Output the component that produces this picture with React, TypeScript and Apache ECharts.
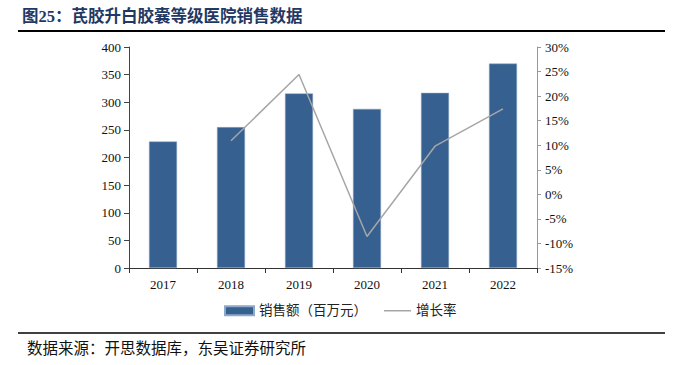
import React, { useEffect, useRef } from "react";
import * as echarts from "echarts";

const categories = ["2017", "2018", "2019", "2020", "2021", "2022"];
const salesValues = [229, 255, 316, 288, 317, 370];
const growthValues: (number | null)[] = [null, 10.9, 24.4, -8.6, 9.8, 17.4];
const title = "图25：芪胶升白胶囊等级医院销售数据";
const source = "数据来源：开思数据库，东吴证券研究所";
const seriesNames = ["销售额（百万元）", "增长率"];

const FONT = "'Liberation Serif', 'Noto Sans CJK SC', serif";

export default function App() {
  const ref = useRef<HTMLDivElement>(null);
  useEffect(() => {
    if (!ref.current) return;
    const chart = echarts.init(ref.current, undefined, { renderer: "svg" });
    const legendText = { fontFamily: FONT, fontSize: 13.5, color: "#222" };
    chart.setOption({
      animation: false,
      backgroundColor: "#ffffff",
      textStyle: { fontFamily: FONT },
      grid: { left: 129, right: 143, top: 47, bottom: 97 },
      legend: [
        {
          data: [{ name: seriesNames[0], icon: "rect" }],
          left: 219,
          top: 299,
          itemWidth: 29,
          itemHeight: 9,
          itemGap: 4,
          textStyle: legendText,
        },
        {
          data: [{ name: seriesNames[1], icon: "rect" }],
          left: 379,
          top: 299,
          itemWidth: 27,
          itemHeight: 1.5,
          itemGap: 4,
          textStyle: legendText,
        },
      ],
      graphic: [
        {
          type: "text",
          left: 22,
          top: 8,
          style: {
            text: title,
            font: "bold 16.5px 'Liberation Serif', 'Noto Sans CJK SC', serif",
            fill: "#1F3864",
          },
        },
        {
          type: "line",
          shape: { x1: 18, y1: 31, x2: 665, y2: 31 },
          style: { stroke: "#000", lineWidth: 2 },
        },
        {
          type: "line",
          shape: { x1: 18, y1: 333, x2: 665, y2: 333 },
          style: { stroke: "#000", lineWidth: 1.5 },
        },
        {
          type: "text",
          left: 27,
          top: 341,
          style: {
            text: source,
            font: "15.5px 'Liberation Serif', 'Noto Sans CJK SC', serif",
            fill: "#111",
          },
        },
      ],
      xAxis: {
        type: "category",
        data: categories,
        axisLine: { lineStyle: { color: "#333", width: 1 } },
        axisTick: { show: true, length: 5, lineStyle: { color: "#333" } },
        axisLabel: { fontFamily: FONT, fontSize: 13, color: "#111", margin: 10 },
      },
      yAxis: [
        {
          type: "value",
          min: 0,
          max: 400,
          interval: 50,
          splitLine: { show: false },
          axisLine: { show: true, lineStyle: { color: "#444" } },
          axisTick: { show: true, length: 5, lineStyle: { color: "#444" } },
          axisLabel: { fontFamily: FONT, fontSize: 13, color: "#111", margin: 8 },
        },
        {
          type: "value",
          min: -15,
          max: 30,
          interval: 5,
          splitLine: { show: false },
          axisLine: { show: true, lineStyle: { color: "#999" } },
          axisTick: { show: true, length: 4, lineStyle: { color: "#999" } },
          axisLabel: {
            fontFamily: FONT,
            fontSize: 13,
            color: "#111",
            margin: 8,
            formatter: (v: number) => `${v}%`,
          },
        },
      ],
      series: [
        {
          name: seriesNames[0],
          type: "bar",
          data: salesValues,
          barWidth: 28,
          itemStyle: { color: "#36608F", borderColor: "#8FA8C8", borderWidth: 0.5 },
        },
        {
          name: seriesNames[1],
          type: "line",
          yAxisIndex: 1,
          data: growthValues,
          symbol: "none",
          lineStyle: { color: "#A6A6A6", width: 1.5 },
          itemStyle: { color: "#A6A6A6" },
        },
      ],
    });
    return () => chart.dispose();
  }, []);
  return <div ref={ref} style={{ width: 680, height: 365, position: "absolute", left: 0, top: 0 }} />;
}
